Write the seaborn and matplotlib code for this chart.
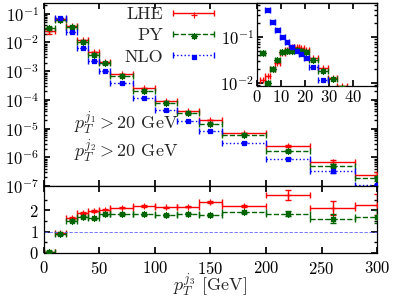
import numpy as np
import matplotlib
matplotlib.use("Agg")
import matplotlib.pyplot as plt
import seaborn as sns
from matplotlib.container import ErrorbarContainer
from matplotlib.legend_handler import HandlerErrorbar
from matplotlib.ticker import LogLocator, NullFormatter

# pT(j3) bins [GeV]
edges = [0, 10, 20, 30, 40, 50, 60, 80, 100, 120, 140, 160, 200, 240, 280, 320]
nlo = [0.5, 0.069, 0.0226, 0.0063, 0.00232, 0.00102, 3.78e-4, 1.14e-4, 4.3e-5,
       1.82e-5, 8.3e-6, 3.2e-6, 8.9e-7, 3.2e-7, 1.08e-7]
lhe = [0.025, 0.064, 0.0375, 0.0118, 0.0046, 0.00208, 8.05e-4, 2.52e-4, 9.2e-5,
       3.95e-5, 2.0e-5, 7.1e-6, 2.43e-6, 6.8e-7, 2.45e-7]
py = [0.031, 0.0614, 0.0344, 0.0108, 0.00378, 0.00186, 6.92e-4, 2.07e-4, 7.7e-5,
      3.37e-5, 1.49e-5, 6.1e-6, 1.65e-6, 5.15e-7, 1.85e-7]
# errors on the ratio to NLO
lhe_rerr = [0.01, 0.04, 0.05, 0.05, 0.04, 0.04, 0.03, 0.03, 0.03, 0.03, 0.05, 0.05, 0.22, 0.33, 0.5]
py_rerr = [0.01, 0.03, 0.04, 0.04, 0.03, 0.03, 0.03, 0.03, 0.03, 0.03, 0.04, 0.04, 0.12, 0.2, 0.3]
nlo_rel = [0.01, 0.01, 0.01, 0.01, 0.01, 0.01, 0.01, 0.01, 0.02, 0.02, 0.03, 0.03, 0.05, 0.08, 0.1]

# inset: fine bins at low pT
ins_edges = [1.5, 3.5, 5.5, 7.5, 9.5, 11.5, 13.5, 15.5, 17.5, 19.5, 21.5, 25.5, 29.5, 33.5, 37.5]
ins_lhe = [0.0113, 0.0139, 0.0195, 0.0272, 0.0437, 0.0518, 0.061, 0.061, 0.058, 0.052,
           0.035, 0.0205, 0.0124, 0.0086]
ins_py = [0.045, 0.0099, 0.0204, 0.0313, 0.048, 0.050, 0.050, 0.052, 0.050, 0.048,
          0.032, 0.018, 0.012, 0.0075]
ins_nlo = [0.9, 0.392, 0.214, 0.143, 0.1016, 0.0765, 0.061, 0.049, 0.0417, 0.034,
           0.0216, 0.0117, 0.0065, 0.0038]

styles = {
    "LHE": dict(color="#ff0000", ls="-", marker="+", s=16),
    "PY": dict(color="#006400", ls="--", marker=(8, 2, 0), s=18),
    "NLO": dict(color="#0000ff", ls=":", marker="s", s=8),
}

sns.set_theme(style="ticks")
plt.rcParams.update({
    "font.family": "serif",
    "font.serif": ["cmr10"],
    "mathtext.fontset": "cm",
    "axes.unicode_minus": False,
    "axes.formatter.use_mathtext": True,
    "font.size": 12,
    "axes.edgecolor": "black",
    "axes.linewidth": 0.9,
    "xtick.direction": "in", "ytick.direction": "in",
    "xtick.top": True, "ytick.right": True,
    "xtick.major.size": 4, "ytick.major.size": 4,
    "xtick.minor.size": 2, "ytick.minor.size": 2,
    "xtick.color": "black", "ytick.color": "black",
    "xtick.labelsize": 12, "ytick.labelsize": 12,
})


def draw(ax, e, y, yerr, name):
    st = styles[name]
    e = np.array(e)
    x = (e[1:] + e[:-1]) / 2
    xerr = (e[1:] - e[:-1]) / 2
    eb = ax.errorbar(x, y, xerr=xerr, yerr=yerr, fmt="none", ecolor=st["color"],
                     elinewidth=1.0, capsize=2.5, capthick=1.0)
    for lc in eb[2]:
        lc.set_linestyle(st["ls"])
    sns.scatterplot(x=x, y=y, ax=ax, marker=st["marker"], color=st["color"],
                    edgecolor=st["color"], s=st["s"], linewidth=0.9, legend=False, zorder=3)
    # legend proxy: horizontal bar only
    proxy = ErrorbarContainer(eb.lines, has_xerr=True, has_yerr=False)
    return (proxy, ax.collections[-1])


def log_ticks(a):
    a.yaxis.set_major_locator(LogLocator(base=10, numticks=20))
    a.yaxis.set_minor_locator(LogLocator(base=10, subs=np.arange(2, 10), numticks=20))
    a.yaxis.set_minor_formatter(NullFormatter())


fig = plt.figure(figsize=(3.94, 2.99), dpi=100)
ax = fig.add_axes([0.111, 0.378, 0.846, 0.612])
rax = fig.add_axes([0.111, 0.154, 0.846, 0.224])
iax = fig.add_axes([0.652, 0.712, 0.305, 0.278])

lhe_a, py_a, nlo_a = np.array(lhe), np.array(py), np.array(nlo)
r_lhe = lhe_a / nlo_a
r_py = py_a / nlo_a

handles = [
    draw(ax, edges, lhe, lhe_a * np.array(lhe_rerr) / r_lhe, "LHE"),
    draw(ax, edges, py, py_a * np.array(py_rerr) / r_py, "PY"),
    draw(ax, edges, nlo, nlo_a * np.array(nlo_rel), "NLO"),
]
ax.set_yscale("log")
log_ticks(ax)
ax.set_xlim(0, 300)
ax.set_ylim(1e-7, 0.238)
ax.tick_params(labelbottom=False)
ax.set_xticks([0, 50, 100, 150, 200, 250, 300])

ax.legend(handles, ["LHE", "PY", "NLO"], loc="upper right", bbox_to_anchor=(0.528, 1.0),
          frameon=False, markerfirst=False, handlelength=2.5, handletextpad=0.45,
          labelspacing=0.31, borderpad=0.2, borderaxespad=0, fontsize=13,
          handler_map={ErrorbarContainer: HandlerErrorbar(xerr_size=1.15)})

ax.text(0.09, 0.306, r"$p_T^{j_1} > 20$ GeV", transform=ax.transAxes, fontsize=13, va="baseline")
ax.text(0.09, 0.153, r"$p_T^{j_2} > 20$ GeV", transform=ax.transAxes, fontsize=13, va="baseline")

# ratio panel
draw(rax, edges, r_lhe, lhe_rerr, "LHE")
draw(rax, edges, r_py, py_rerr, "PY")
rax.axhline(1, color="#6060ff", ls=(0, (4, 2)), lw=0.6)
rax.set_xlim(0, 300)
rax.set_ylim(0, 3.15)
rax.set_yticks([0, 1, 2])
rax.set_yticks([0.5, 1.5, 2.5], minor=True)
rax.set_xticks([0, 50, 100, 150, 200, 250, 300])
rax.tick_params(axis="x", pad=5)
rax.set_xlabel(r"$p_T^{j_3}$ [GeV]", fontsize=13)
rax.xaxis.set_label_coords(0.5, -0.28)

# inset
draw(iax, ins_edges, ins_lhe, None, "LHE")
draw(iax, ins_edges, ins_py, None, "PY")
draw(iax, ins_edges, ins_nlo, None, "NLO")
iax.set_yscale("log")
log_ticks(iax)
iax.set_xlim(0, 50)
iax.set_ylim(0.0084, 0.56)
iax.set_xticks([0, 10, 20, 30, 40])
iax.tick_params(pad=2)

fig.savefig("out.png", dpi=100)
